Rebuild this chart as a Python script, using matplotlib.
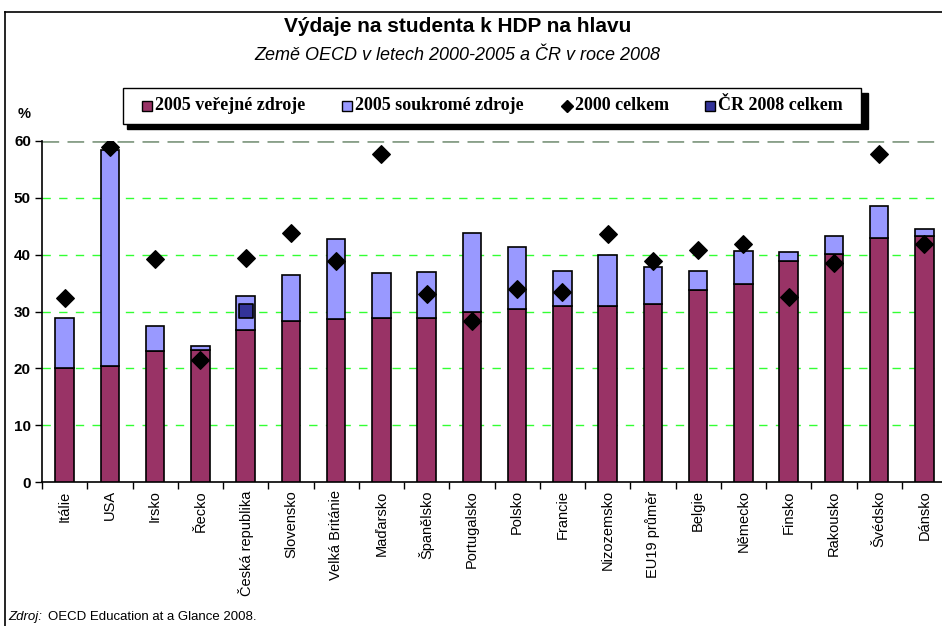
import numpy as np
import matplotlib.pyplot as plt
from matplotlib.patches import Rectangle
from matplotlib.lines import Line2D

plt.rcParams['font.family'] = ['Liberation Sans', 'DejaVu Sans']

# ---------------------------------------------------------------------------
# Data
# ---------------------------------------------------------------------------
countries = ["Itálie", "USA", "Irsko", "Řecko", "Česká republika", "Slovensko",
             "Velká Británie", "Maďarsko", "Španělsko", "Portugalsko", "Polsko",
             "Francie", "Nizozemsko", "EU19 průměr", "Belgie", "Německo",
             "Finsko", "Rakousko", "Švédsko", "Dánsko"]
public_2005 = [20.1, 20.4, 23.1, 23.2, 26.7, 28.4, 28.6, 28.9, 28.9, 29.9,
               30.4, 31.0, 31.0, 31.3, 33.8, 34.9, 38.9, 40.2, 42.9, 43.2]
total_2005 = [28.8, 58.4, 27.5, 24.0, 32.8, 36.5, 42.8, 36.7, 37.0, 43.9,
              41.3, 37.1, 39.9, 37.8, 37.2, 40.7, 40.5, 43.3, 48.6, 44.5]
total_2000 = [32.3, 59.0, 39.2, 21.5, 39.4, 43.9, 38.9, 57.7, 33.1, 28.4,
              33.9, 33.4, 43.6, 38.9, 40.8, 41.8, 32.5, 38.6, 57.7, 41.8]
cr_2008_country = "Česká republika"
cr_2008_total = 30.1

private_2005 = [t - p for t, p in zip(total_2005, public_2005)]

# ---------------------------------------------------------------------------
# Figure
# ---------------------------------------------------------------------------
W, H = 942, 626
fig = plt.figure(figsize=(W / 100, H / 100), dpi=100)
ax = fig.add_axes([42 / W, 1 - 482 / H, 905 / W, (482 - 141) / H])

x = np.arange(len(countries))
bw = 0.41
ax.bar(x, public_2005, bw, color='#993366', edgecolor='black', linewidth=1.2, zorder=3)
ax.bar(x, private_2005, bw, bottom=public_2005, color='#9999FF',
       edgecolor='black', linewidth=1.2, zorder=3)
ax.scatter(x, total_2000, marker='D', s=80, color='black', zorder=5)
cr_idx = countries.index(cr_2008_country)
ax.scatter([cr_idx], [cr_2008_total], marker='s', s=110, color='#333399',
           edgecolor='black', linewidth=1.2, zorder=6)

ax.set_xlim(-0.5, len(countries) - 0.5)
ax.set_ylim(0, 60)
ax.set_yticks(range(0, 61, 10))
ax.set_yticklabels([str(v) for v in range(0, 61, 10)], fontsize=11, fontweight='bold')
ax.set_xticks(x)
ax.set_xticklabels(countries, rotation=90, fontsize=10.5)
ax.set_xticks(np.arange(-0.5, len(countries)), minor=True)
ax.tick_params(axis='x', which='major', length=0, pad=6)
ax.tick_params(axis='x', which='minor', length=5, width=1, direction='out')
ax.tick_params(axis='y', length=5, width=1, direction='out', pad=3)

for v in range(10, 60, 10):
    ax.axhline(v, color='#33FF33', linestyle=(0, (6, 6)), linewidth=1, zorder=1)
ax.axhline(60, color='#8aa08a', linestyle=(0, (6, 3)), linewidth=2, zorder=1)

for side in ['top', 'right']:
    ax.spines[side].set_visible(False)
ax.spines['left'].set_linewidth(1.2)
ax.spines['bottom'].set_linewidth(1.2)

# Titles
fig.text(458 / W, 1 - 27 / H, "Výdaje na studenta k HDP na hlavu",
         ha='center', va='center', fontsize=15, fontweight='bold')
fig.text(457 / W, 1 - 55 / H, "Země OECD v letech 2000-2005 a ČR v roce 2008",
         ha='center', va='center', fontsize=13, style='italic')
fig.text(24 / W, 1 - 114 / H, "%", ha='center', va='center', fontsize=10.5, fontweight='bold')
fig.text(8 / W, 1 - 617 / H, "Zdroj:", ha='left', va='center', fontsize=9.5, style='italic')
fig.text(48 / W, 1 - 617 / H, "OECD Education at a Glance 2008.", ha='left', va='center', fontsize=9.5)

# Figure border (left and top)
fig.add_artist(Line2D([5 / W, 5 / W], [0, 1 - 12 / H], color='black', lw=1.2,
                      transform=fig.transFigure))
fig.add_artist(Line2D([5 / W, 1], [1 - 12 / H, 1 - 12 / H], color='black', lw=1.2,
                      transform=fig.transFigure))

# Legend box with shadow
lx0, ly0, lx1, ly1 = 123, 88, 861, 124
fig.add_artist(Rectangle(((lx0 + 4) / W, 1 - (ly1 + 5) / H), (lx1 - lx0 + 3) / W, (ly1 - ly0) / H,
                         transform=fig.transFigure, facecolor='black', edgecolor='black', zorder=1))
fig.add_artist(Rectangle((lx0 / W, 1 - ly1 / H), (lx1 - lx0) / W, (ly1 - ly0) / H,
                         transform=fig.transFigure, facecolor='white', edgecolor='black',
                         linewidth=1, zorder=2))
legend_items = [
    (147, 's', '#993366', "2005 veřejné zdroje"),
    (347, 's', '#9999FF', "2005 soukromé zdroje"),
    (567, 'D', 'black', "2000 celkem"),
    (710, 's', '#333399', "ČR 2008 celkem"),
]
ly = 1 - 106 / H
for px, mk, col, lab in legend_items:
    fig.add_artist(Line2D([px / W], [ly], marker=mk, markersize=6.5,
                          markerfacecolor=col, markeredgecolor='black', linestyle='none',
                          transform=fig.transFigure, zorder=3))
    fig.text((px + 8) / W, ly, lab, ha='left', va='center', fontsize=13, fontweight='bold',
             family=['Liberation Serif', 'DejaVu Serif'], zorder=3)

fig.savefig('out.png', dpi=100)
